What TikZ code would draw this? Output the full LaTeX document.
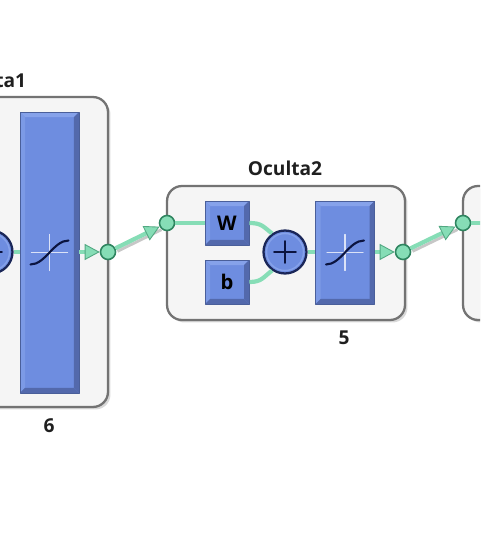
\documentclass[tikz,border=0pt]{standalone}
\usepackage{fontspec}
\setmainfont{Open Sans}
\usetikzlibrary{arrows.meta,calc,shadows}
\definecolor{wirecol}{HTML}{86DDB6}
\definecolor{wiredark}{HTML}{2F8560}
\definecolor{blueface}{HTML}{6E8DE0}
\definecolor{bluelight}{HTML}{86A2EA}
\definecolor{bluedark}{HTML}{5369AC}
\definecolor{blueedge}{HTML}{4A5F9A}
\definecolor{navyline}{HTML}{0B1440}
\tikzset{
  layerbox/.style={draw=black!55,line width=1.3pt,fill=black!4,rounded corners=0.3cm,inner sep=0pt,
    drop shadow={opacity=0.3,shadow xshift=0.05cm,shadow yshift=-0.05cm}},
  blockbox/.style={draw=blueedge,line width=0.5pt,fill=blueface,inner sep=0pt,font=\bfseries\fontsize{11.5}{11.5}\selectfont,
    path picture={
      \coordinate (nw) at (path picture bounding box.north west);
      \coordinate (ne) at (path picture bounding box.north east);
      \coordinate (sw) at (path picture bounding box.south west);
      \coordinate (se) at (path picture bounding box.south east);
      \fill[bluelight] (nw) -- (ne) -- ($(ne)+(-5,5)$) -- ($(nw)+(5,5)$) -- cycle;
      \fill[bluelight!60!blueface] (nw) -- (sw) -- ($(sw)+(5,-5)$) -- ($(nw)+(5,5)$) -- cycle;
      \fill[bluedark] (ne) -- (se) -- ($(se)+(-5,-5)$) -- ($(ne)+(-5,5)$) -- cycle;
      \fill[bluedark] (sw) -- (se) -- ($(se)+(-5,-5)$) -- ($(sw)+(5,-5)$) -- cycle;
    }},
  sumnode/.style={circle,draw=navyline!85!blueface,line width=1.3pt,fill=blueface,minimum size=0.86cm,inner sep=0pt},
  dotnode/.style={circle,draw=wiredark,line width=0.9pt,fill=wirecol,minimum size=0.3cm,inner sep=0pt},
  wire/.style={draw=wirecol,line width=2.4pt,line cap=butt},
  arrowwire/.style={wire,-{Triangle[length=0.3cm,width=0.32cm,color=wiredark!60!wirecol,fill=wirecol,line width=0.5pt]}},
  wireshadow/.style={draw=black!22,line width=1.6pt,line cap=butt,transform canvas={shift={(0.04cm,-0.06cm)}}},
  titletext/.style={font=\bfseries\fontsize{10.9}{10.9}\selectfont,text=black!88},
}
\begin{document}
\begin{tikzpicture}[x=0.02cm,y=-0.02cm,line cap=round,line join=round]
  \useasboundingbox (0,0) rectangle (480,550);
  \clip (0,0) rectangle (480,550);
  \node[layerbox,minimum width=5.2cm,minimum height=6.2cm] (ocultaone) at (-22,252) {};
  \node[layerbox,minimum width=4.76cm,minimum height=2.68cm] (ocultatwo) at (286,253) {};
  \node[layerbox,minimum width=4.76cm,minimum height=2.68cm] (ocultathree) at (582,253) {};
  \node[titletext] (titleone) at (-11,80) {Oculta1};
  \node[titletext] (titletwo) at (285,168) {Oculta2};
  \node[titletext] (sizeone) at (49,426) {6};
  \node[titletext] (sizetwo) at (344,338) {5};
  \node[blockbox,minimum width=1.18cm,minimum height=5.62cm] (tansone) at (49.5,252.5) {};
  \node[blockbox,minimum width=1.18cm,minimum height=2.06cm] (transtwo) at (345,252.5) {};
  \node[blockbox,minimum width=0.88cm,minimum height=0.88cm] (weight) at (227,223) {W};
  \node[blockbox,minimum width=0.88cm,minimum height=0.88cm] (bias) at (227,282) {b};
  \node[sumnode] (sumone) at (-9,252) {};
  \node[sumnode] (sumtwo) at (285,252) {};
  \node[dotnode] (outone) at (108,252) {};
  \node[dotnode] (intwo) at (167,223) {};
  \node[dotnode] (outtwo) at (403,252) {};
  \node[dotnode] (inthree) at (463,223) {};
  \coordinate (exit) at (490,223);
  \draw[wireshadow] (outone) -- (intwo);
  \draw[wireshadow] (outtwo) -- (inthree);
  \draw[wire] (sumone) -- (tansone.west |- sumone);
  \draw[wire] (sumtwo) -- (transtwo.west |- sumtwo);
  \draw[arrowwire] (tansone.east |- outone) -- (outone);
  \draw[arrowwire] (transtwo.east |- outtwo) -- (outtwo);
  \draw[arrowwire] (outone) -- (intwo);
  \draw[arrowwire] (outtwo) -- (inthree);
  \draw[wire] (intwo) -- (weight);
  \draw[wire] (inthree) -- (exit);
  \draw[wire] (weight.east) .. controls +(12,0) and +(-9,-7) .. (sumtwo.125);
  \draw[wire] (bias.east) .. controls +(12,0) and +(-9,7) .. (sumtwo.235);
  \foreach \blk in {tansone,transtwo} {
    \begin{scope}[shift={(\blk.center)}]
      \draw[white!75!blueface,line width=0.6pt] (-18,0) -- (18,0);
      \draw[white!75!blueface,line width=0.6pt] (0,-18) -- (0,18);
      \draw[navyline,line width=1.2pt] (-19,12) .. controls (-4,12) and (4,-12) .. (19,-12);
    \end{scope}
  }
  \foreach \blk in {sumone,sumtwo} {
    \draw[bluelight,line width=0.8pt] (\blk) circle (18.5);
    \draw[navyline,line width=1pt] ($(\blk)+(-11,0)$) -- ($(\blk)+(11,0)$);
    \draw[navyline,line width=1pt] ($(\blk)+(0,-11)$) -- ($(\blk)+(0,11)$);
  }
\end{tikzpicture}
\end{document}
